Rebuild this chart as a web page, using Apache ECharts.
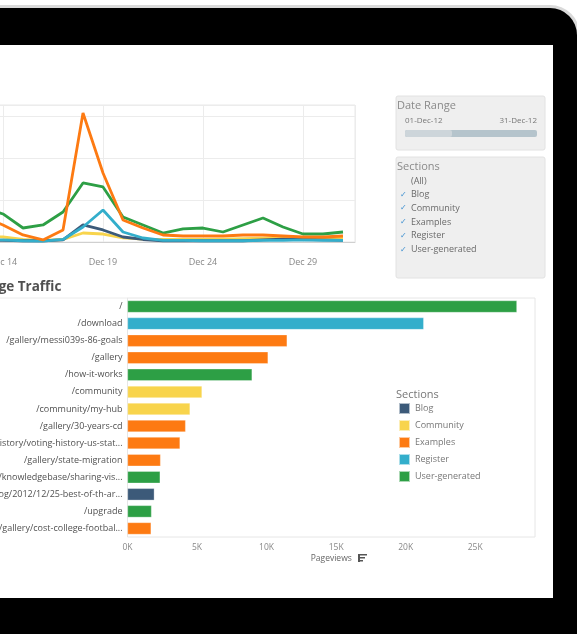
<!DOCTYPE html>
<html>
<head>
<meta charset="utf-8">
<script src="https://cdn.jsdelivr.net/npm/echarts@6/dist/echarts.min.js"></script>
<style>
html,body{margin:0;padding:0;background:#fff;}
#c{width:577px;height:634px;}
</style>
</head>
<body>
<div id="c"></div>
<script>
// ---------- Data ----------
const sectionNames = ['Blog', 'Community', 'Examples', 'Register', 'User-generated'];
const sectionColors = ['#3c5a79', '#f8d44c', '#fd7a12', '#33aecb', '#2d9f45'];

// Line chart (daily pageviews by section), December 2012
const lineDays = [13, 14, 15, 16, 17, 18, 19, 20, 21, 22, 23, 24, 25, 26, 27, 28, 29, 30, 31];
const blogLine = [40, 40, 30, 30, 50, 405, 286, 119, 60, 30, 30, 30, 30, 30, 50, 70, 60, 50, 40];
const communityLine = [150, 119, 60, 40, 60, 214, 190, 100, 70, 60, 60, 60, 70, 80, 90, 90, 100, 90, 100];
const examplesLine = [600, 405, 167, 48, 286, 3071, 1643, 524, 333, 167, 143, 143, 143, 167, 167, 143, 119, 119, 143];
const registerLine = [60, 50, 30, 20, 60, 357, 762, 238, 95, 40, 40, 30, 30, 30, 40, 40, 50, 40, 40];
const userGenLine = [820, 667, 333, 405, 714, 1405, 1310, 595, 405, 214, 310, 333, 238, 405, 571, 357, 190, 190, 238];

// Page traffic bars
const pages = ['/', '/download', '/gallery/messi039s-86-goals', '/gallery', '/how-it-works', '/community',
  '/community/my-hub', '/gallery/30-years-cd', '/gallery/history/voting-history-us-stat...',
  '/gallery/state-migration', '/knowledgebase/sharing-vis...', '/blog/2012/12/25-best-of-th-ar...',
  '/upgrade', '/gallery/cost-college-footbal...'];
const pageviews = [28000, 21300, 11480, 10110, 8960, 5360, 4500, 4180, 3780, 2380, 2350, 1930, 1730, 1700];
const pageSections = ['User-generated', 'Register', 'Examples', 'Examples', 'User-generated', 'Community',
  'Community', 'Examples', 'Examples', 'Examples', 'User-generated', 'Blog', 'User-generated', 'Examples'];
const barTicks = ['0K', '5K', '10K', '15K', '20K', '25K'];

// Filter panel content
const dateRange = ['01-Dec-12', '31-Dec-12'];
const filterItems = ['(All)', 'Blog', 'Community', 'Examples', 'Register', 'User-generated'];
const filterChecked = [false, true, true, true, true, true];

// ---------- Chart ----------
const FONT = '"Open Sans", sans-serif';
const chart = echarts.init(document.getElementById('c'), null, {renderer: 'canvas'});

const lineSeriesData = [blogLine, communityLine, examplesLine, registerLine, userGenLine];
const lineOrder = [1, 0, 3, 4, 2]; // draw orange last (on top)

const barSeries = sectionNames.map((s, k) => ({
  name: s,
  type: 'bar',
  xAxisIndex: 1, yAxisIndex: 1,
  stack: 'pages',
  barWidth: 12,
  itemStyle: {color: sectionColors[k], borderColor: 'rgba(255,255,255,0.6)', borderWidth: 0.5},
  data: pageviews.map((v, i) => pageSections[i] === s ? v : '-')
}));

const lineSeries = lineOrder.map((k, j) => ({
  name: sectionNames[k],
  type: 'line',
  xAxisIndex: 0, yAxisIndex: 0,
  showSymbol: false,
  symbol: 'none',
  lineStyle: {color: sectionColors[k], width: 2.8},
  itemStyle: {color: sectionColors[k]},
  z: 3 + j,
  data: lineDays.map((d, i) => [d, lineSeriesData[k][i]])
}));

const graphics = [
  // tablet frame
  {type: 'rect', z: -30, shape: {x: -30, y: 5, width: 610, height: 700, r: [0, 30, 0, 0]}, style: {fill: '#dadada'}},
  {type: 'rect', z: -29, shape: {x: -30, y: 8, width: 607, height: 700, r: [0, 27, 0, 0]}, style: {fill: '#000'}},
  {type: 'rect', z: -28, shape: {x: -10, y: 45, width: 563, height: 553}, style: {fill: '#fff'}},
  // Page Traffic title (cut at screen edge)
  {type: 'text', z: 5, style: {text: 'Page Traffic', x: -18, y: 287, verticalAlign: 'middle',
    font: 'bold 13.5px ' + FONT, fill: '#505050'}},
  {type: 'line', z: -5, shape: {x1: 0, y1: 298, x2: 128, y2: 298}, style: {stroke: '#ececec', lineWidth: 1}},
  // Date range panel
  {type: 'rect', z: -5, shape: {x: 396, y: 96, width: 149, height: 54, r: 2}, style: {fill: '#efefef', stroke: '#e2e2e2'}},
  {type: 'text', style: {text: 'Date Range', x: 397, y: 106, verticalAlign: 'middle', font: '11px ' + FONT, fill: '#8a8a8a'}},
  {type: 'text', style: {text: dateRange[0], x: 405, y: 121, verticalAlign: 'middle', font: '8px ' + FONT, fill: '#777'}},
  {type: 'text', style: {text: dateRange[1], x: 537, y: 121, align: 'right', verticalAlign: 'middle', font: '8px ' + FONT, fill: '#777'}},
  {type: 'rect', shape: {x: 405, y: 130, width: 132, height: 7, r: 2}, style: {fill: '#b5c4cc'}},
  {type: 'rect', shape: {x: 405, y: 130, width: 47, height: 7, r: 2}, style: {fill: '#cdd5da'}},
  // Sections filter panel
  {type: 'rect', z: -5, shape: {x: 396, y: 157, width: 149, height: 121, r: 2}, style: {fill: '#efefef', stroke: '#e2e2e2'}},
  {type: 'text', style: {text: 'Sections', x: 397, y: 167, verticalAlign: 'middle', font: '11px ' + FONT, fill: '#8a8a8a'}},
  // Pageviews sort icon
  {type: 'rect', shape: {x: 358, y: 554, width: 2, height: 8}, style: {fill: '#555'}},
  {type: 'rect', shape: {x: 360, y: 554, width: 7, height: 1.5}, style: {fill: '#555'}},
  {type: 'rect', shape: {x: 360, y: 557, width: 5, height: 1.5}, style: {fill: '#555'}},
  {type: 'rect', shape: {x: 360, y: 560, width: 3, height: 1.5}, style: {fill: '#555'}},
  // Legend title
  {type: 'text', style: {text: 'Sections', x: 396, y: 395, verticalAlign: 'middle', font: '11px ' + FONT, fill: '#777'}}
];
filterItems.forEach((t, i) => {
  const y = 181 + i * 13.7;
  graphics.push({type: 'text', style: {text: t, x: 411, y: y, verticalAlign: 'middle', font: '9px ' + FONT, fill: '#6a6a6a'}});
  if (filterChecked[i]) {
    graphics.push({type: 'text', style: {text: '✓', x: 400, y: y, verticalAlign: 'middle', font: 'bold 8px "DejaVu Sans"', fill: '#3d8fd0'}});
  }
});

const option = {
  backgroundColor: '#fff',
  animation: false,
  textStyle: {fontFamily: FONT},
  graphic: graphics,
  legend: {
    data: sectionNames,
    orient: 'vertical',
    left: 398, top: 402,
    padding: 0,
    itemWidth: 11, itemHeight: 11, itemGap: 4,
    icon: 'rect',
    textStyle: {fontSize: 9, color: '#777', fontFamily: FONT, lineHeight: 11},
    selectedMode: false
  },
  grid: [
    {left: -97, top: 105, width: 452, height: 137, show: true, borderColor: '#e9e9e9', borderWidth: 1,
      containLabel: false, outerBoundsMode: 'none'},
    {left: 127.5, top: 298, width: 407.5, height: 239, show: true, borderColor: '#e6e6e6', borderWidth: 1,
      containLabel: false, outerBoundsMode: 'none'}
  ],
  xAxis: [
    {
      gridIndex: 0, type: 'value', min: 9, max: 31.6, interval: 5,
      axisLine: {show: true, lineStyle: {color: '#d0d0d0'}},
      axisTick: {show: false},
      splitLine: {show: true, lineStyle: {color: '#ececec'}},
      axisLabel: {fontSize: 9, color: '#888', margin: 16, showMaxLabel: false, showMinLabel: false,
        formatter: v => 'Dec ' + v}
    },
    {
      gridIndex: 1, type: 'value', min: 0, max: 29300, interval: 5000,
      axisLine: {show: false}, axisTick: {show: false},
      splitLine: {show: false},
      axisLabel: {fontSize: 8.5, color: '#888', margin: 6, showMaxLabel: false,
        formatter: v => barTicks[v / 5000]},
      name: 'Pageviews', nameLocation: 'middle', nameGap: 17,
      nameTextStyle: {fontSize: 8.5, color: '#666'}
    }
  ],
  yAxis: [
    {
      gridIndex: 0, type: 'value', min: 0, max: 3260, interval: 1000,
      axisLine: {show: false}, axisTick: {show: false},
      axisLabel: {show: false},
      splitLine: {show: true, lineStyle: {color: '#ececec'}}
    },
    {
      gridIndex: 1, type: 'category', data: pages, inverse: true,
      axisLine: {show: false}, axisTick: {show: false},
      axisLabel: {fontSize: 9, color: '#505050', margin: 5}
    }
  ],
  series: barSeries.concat(lineSeries)
};
chart.setOption(option);
</script>
</body>
</html>
